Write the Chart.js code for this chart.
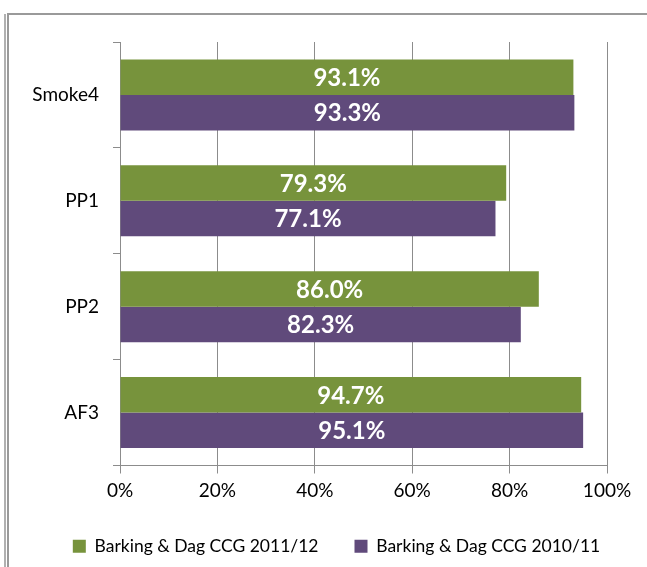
<!DOCTYPE html>
<html>
<head>
<meta charset="utf-8">
<script src="https://cdn.jsdelivr.net/npm/chart.js@4/dist/chart.umd.min.js"></script>
<style>
  html, body { margin: 0; padding: 0; background: #fff; }
  #wrap { position: relative; width: 647px; height: 567px; overflow: hidden; }
  .frame { position: absolute; background: #9a9a9a; }
  canvas { position: absolute; left: 0; top: 0; }
</style>
</head>
<body>
<div id="wrap">
  <div class="frame" style="left:7px; top:13px; width:640px; height:2px;"></div>
  <div class="frame" style="left:7px; top:13px; width:2px; height:554px;"></div>
  <div class="frame" style="left:4px; top:14px; width:2px; height:553px; background:#b0b0b0;"></div>
  <canvas id="main" width="647" height="567"></canvas>
</div>
<script>
const categories = ["Smoke4", "PP1", "PP2", "AF3"];
const series2011 = [93.1, 79.3, 86.0, 94.7];
const series2010 = [93.3, 77.1, 82.3, 95.1];
const seriesNames = ["Barking & Dag CCG 2011/12", "Barking & Dag CCG 2010/11"];

const green = "#77933c";
const purple = "#604a7b";
const gridGray = "#8c8c8c";

// values written in the middle of each bar
const barLabels = {
  id: "barLabels",
  afterDatasetsDraw(chart) {
    const ctx = chart.ctx;
    ctx.save();
    ctx.fillStyle = "#fff";
    ctx.font = "bold 24px Lato";
    ctx.textAlign = "center";
    ctx.textBaseline = "middle";
    chart.data.datasets.forEach((ds, i) => {
      chart.getDatasetMeta(i).data.forEach((bar, j) => {
        ctx.fillText(ds.data[j].toFixed(1) + "%", (bar.x + bar.base) / 2, bar.y + 1);
      });
    });
    ctx.restore();
  },
};

// legend sits a bit right of the canvas centre in the original
const shiftLegend = {
  id: "shiftLegend",
  afterLayout(chart) {
    chart.legend.left += 33;
    chart.legend.right += 33;
  },
};

const ctx = document.getElementById("main").getContext("2d");
const myChart = new Chart(ctx, {
  type: "bar",
  data: {
    labels: categories,
    datasets: [
      { label: seriesNames[0], data: series2011, backgroundColor: green },
      { label: seriesNames[1], data: series2010, backgroundColor: purple },
    ],
  },
  options: {
    indexAxis: "y",
    responsive: false,
    animation: false,
    categoryPercentage: 0.67,
    barPercentage: 1.0,
    layout: { padding: { left: 0, top: 42, right: 40, bottom: 2 } },
    scales: {
      x: {
        min: 0,
        max: 100,
        ticks: {
          stepSize: 20,
          callback: (v) => v + "%",
          color: "#000",
          font: { family: "Lato", size: 19 },
          padding: 6,
        },
        grid: { color: gridGray, tickLength: 8 },
        border: { color: gridGray },
        afterFit: (s) => { s.height = 36; },
      },
      y: {
        ticks: {
          color: "#000",
          font: { family: "Lato", size: 19 },
          padding: 14,
        },
        grid: { drawOnChartArea: false, color: gridGray, tickLength: 7 },
        border: { color: gridGray },
        afterFit: (s) => { s.width = 120; },
      },
    },
    plugins: {
      legend: {
        position: "bottom",
        labels: {
          boxWidth: 13,
          boxHeight: 13,
          padding: 36,
          color: "#000",
          font: { family: "Lato", size: 17.5 },
        },
      },
      tooltip: { enabled: false },
    },
  },
  plugins: [barLabels, shiftLegend],
});
</script>
</body>
</html>
